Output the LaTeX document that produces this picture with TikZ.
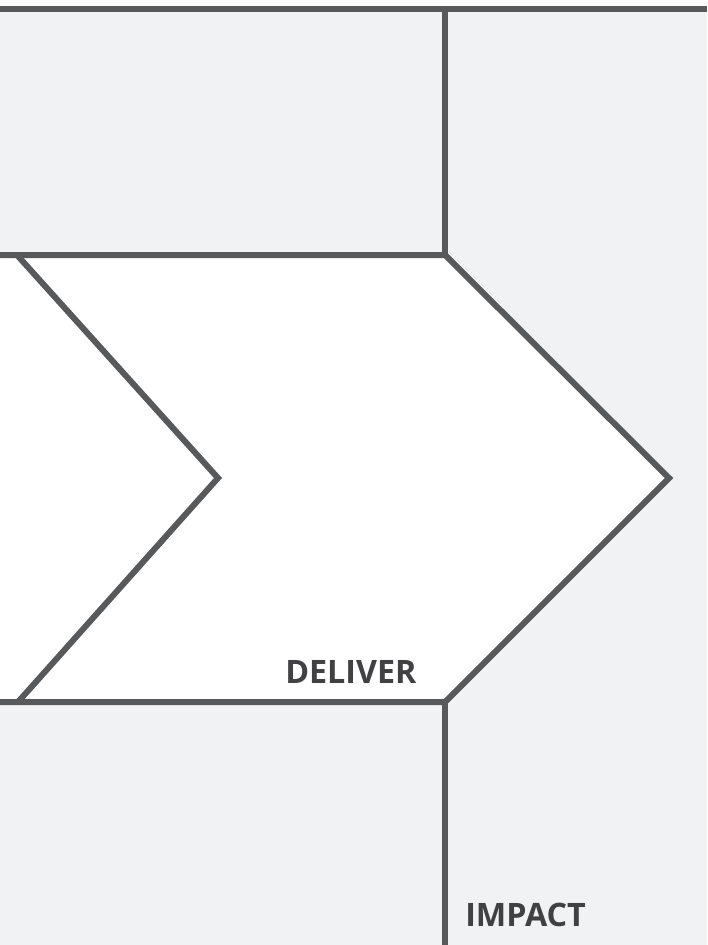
\documentclass[tikz,border=0pt]{standalone}
\usepackage{fontspec}
\setmainfont{Open Sans}
\usepackage{xcolor}
\usetikzlibrary{positioning,calc}
\definecolor{panelgray}{HTML}{F1F2F4}
\definecolor{linegray}{HTML}{58595B}
\definecolor{textgray}{HTML}{414042}

\begin{document}
\begin{tikzpicture}[x=0.75pt, y=-0.75pt,
        border/.style={draw=linegray, line width=4.5pt, line join=miter},
        label/.style={font=\fontsize{24.2}{28}\selectfont\bfseries, text=textgray, inner sep=0pt, anchor=base west},
      ]
      \useasboundingbox (0,0) rectangle (707,945);
      % panels
      \fill [white] (0,0) rectangle (707,945);
      \fill [panelgray] (0,9.5) rectangle (707,945);
      \coordinate (tl) at (0,255);
      \coordinate (tr) at (445,255);
      \coordinate (tip) at (669,478);
      \coordinate (br) at (445,702);
      \coordinate (bl) at (0,702);
      \fill [white] (tl) -- (tr) -- (tip) -- (br) -- (bl) -- cycle;
      % frame lines
      \draw [border] (0,9.5) -- (707,9.5);
      \draw [border] (445,9.5) -- (tr);
      \draw [border] (tl) -- (tr) -- (tip) -- (br) -- (bl);
      \draw [border] (br) -- (445,945);
      \draw [border] (17,255) -- (218,478) -- (18,702);
      % labels
      \node [label] (deliver) at (285,683.5) {DELIVER};
      \node [label] (impact) at (465,926) {IMPACT};
    \end{tikzpicture}
\end{document}
